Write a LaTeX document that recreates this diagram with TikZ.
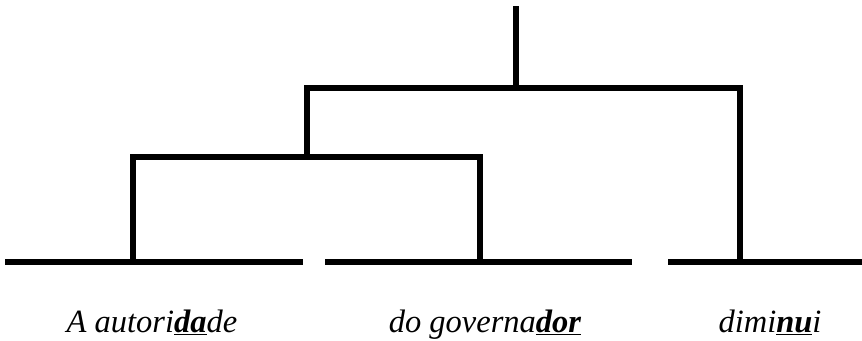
\documentclass[tikz,border=0pt]{standalone}
\usepackage{fontspec}
\setmainfont{Liberation Serif}
\newcommand{\hl}[1]{\underline{\textbf{#1}}}
\begin{document}
\begin{tikzpicture}[x=1pt,y=-1pt,
  branch/.style={line width=6pt,line join=miter},
  word/.style={anchor=base,inner sep=0pt,font=\fontsize{32.5}{35}\selectfont\itshape}]
\useasboundingbox (0,0) rectangle (862,340);
% ground segments
\coordinate (g1a) at (5,262);   \coordinate (g1b) at (303,262);
\coordinate (g2a) at (325,262); \coordinate (g2b) at (632,262);
\coordinate (g3a) at (668,262); \coordinate (g3b) at (862,262);
\draw[branch] (g1a) -- (g1b);
\draw[branch] (g2a) -- (g2b);
\draw[branch] (g3a) -- (g3b);
% tree
\coordinate (l1) at (133,262);
\coordinate (l2) at (480,262);
\coordinate (l3) at (740,262);
\coordinate (j1) at (307,157);
\coordinate (j2) at (516,88);
\coordinate (top) at (516,6);
\draw[branch] (l1) |- (j1) -| (l2);
\draw[branch] (j1) |- (j2) -| (l3);
\draw[branch] (j2) -- (top);
% words
\node[word] (w1) at (152,332) {A autori\hl{da}de};
\node[word] (w2) at (485,332) {do governa\hl{dor}};
\node[word] (w3) at (770,332) {dimi\hl{nu}i};
\end{tikzpicture}
\end{document}
